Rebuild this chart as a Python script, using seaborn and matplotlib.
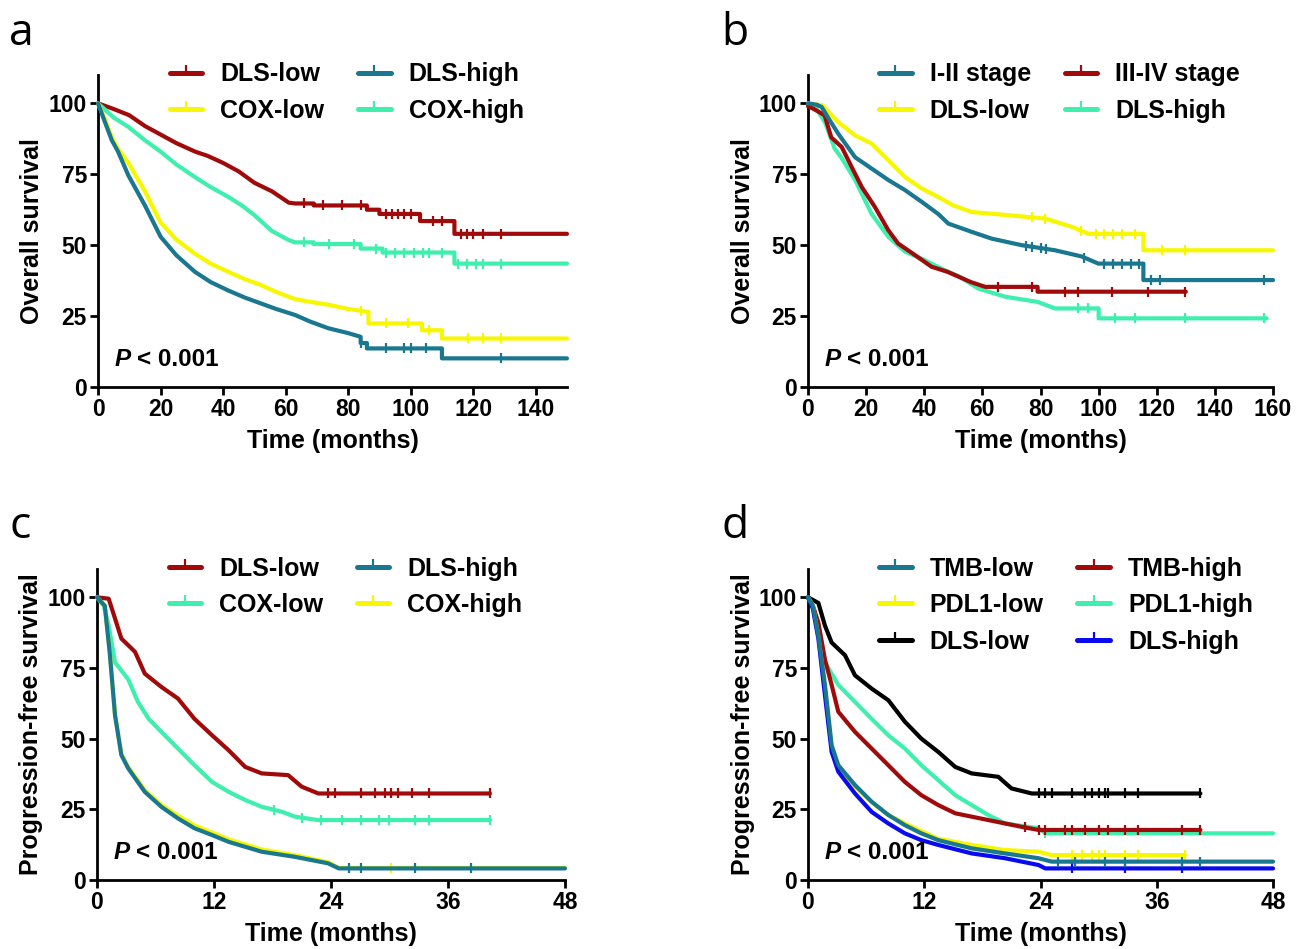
import numpy as np
import matplotlib
matplotlib.use("Agg")
import matplotlib.pyplot as plt
from matplotlib.lines import Line2D
import seaborn as sns

# colours
RED = "#A10A0A"
TEAL = "#19788F"
YELLOW = "#F7F700"
AQUA = "#3EEFAE"
BLUE = "#0A0AF0"
BLACK = "#000000"

# ---- panel a: overall survival (months) ----
A_DLS_LOW_T = [0, 5, 10, 15, 20, 25, 31, 35, 40, 45, 50, 55.6, 61, 63, 69, 69, 86, 86, 90, 90, 103, 103, 114, 114, 150]
A_DLS_LOW_S = [100, 98, 95.8, 92, 89, 86, 83, 81.5, 79, 76, 72, 69, 65, 64.7, 64.7, 64, 64, 62.5, 62.5, 61, 61, 58.5, 58.5, 54, 54]
A_DLS_LOW_C = [66, 72, 78, 84, 92, 94, 96, 98, 100, 107, 110, 116, 118, 120, 123, 129]

A_COX_HIGH_T = [0, 5, 9.7, 15, 20, 25, 31, 36, 41.7, 46, 50, 55.6, 61, 63, 69, 69, 84, 84, 91, 91, 114, 114, 150]
A_COX_HIGH_S = [100, 95, 91.7, 87, 83, 78.5, 74, 70.5, 67, 64, 60.6, 55, 51.8, 51, 51, 50.4, 50.4, 48.8, 48.8, 47.4, 47.4, 43.5, 43.5]
A_COX_HIGH_C = [66, 74, 82, 89, 92, 95, 98, 101, 104, 106, 110, 115, 118, 121, 123, 129]

A_COX_LOW_T = [0, 2, 4.4, 6.4, 9.7, 15, 20, 25, 31, 36, 41.7, 47, 52, 57, 63, 68, 73.7, 80, 86.5, 86.5, 103.6, 103.6, 110, 110, 150]
A_COX_LOW_S = [100, 95, 88, 84, 79, 69, 58, 52, 47, 43.5, 40.6, 38, 36, 33.5, 31, 30, 29, 27.5, 26.5, 22.4, 22.4, 20, 20, 17.1, 17.1]
A_COX_LOW_C = [84, 92, 99, 106, 118.5, 123, 129]

A_DLS_HIGH_T = [0, 2, 4.4, 6.4, 9.7, 15, 20, 25, 31, 36, 41.7, 47, 52, 57, 63, 68, 73.7, 80, 84, 84, 86, 86, 110, 110, 150]
A_DLS_HIGH_S = [100, 94, 87, 83, 74.6, 64, 53, 46.5, 40.6, 37, 34, 31.5, 29.5, 27.5, 25.4, 23, 20.7, 19, 17.7, 15.5, 15.5, 13.6, 13.6, 10.1, 10.1]
A_DLS_HIGH_C = [84, 92, 98, 100, 105, 129]

# ---- panel b: overall survival by stage / DLS ----
B_STAGE12_T = [0, 3, 4.7, 7.5, 10.4, 16.2, 21.9, 27.6, 33.4, 39.1, 44.8, 48.3, 56.3, 63.2, 73.5, 85, 94.2, 99.9, 115.4, 115.4, 160]
B_STAGE12_S = [100, 99.5, 98.7, 94, 89.3, 81, 77, 73, 69.4, 65.3, 61, 57.6, 54.7, 52.3, 50, 48.2, 46, 43.5, 43.5, 37.7, 37.7]
B_STAGE12_C = [75, 77, 80, 82, 95, 102, 105, 108, 111, 114, 118, 121, 157]

B_DLS_LOW_T = [0, 5, 10.4, 16.2, 21.9, 27.6, 33.4, 39.1, 44.8, 50, 56.3, 62, 81.5, 90.7, 96.5, 115.4, 115.4, 160]
B_DLS_LOW_S = [100, 99.3, 93.4, 88.7, 85.8, 80, 74, 70, 67, 64, 61.7, 61.2, 59.4, 56.5, 54, 54, 48.2, 48.2]
B_DLS_LOW_C = [77, 81.5, 94, 99, 102, 105, 108, 112.5, 121.7, 129.7]

B_STAGE34_T = [0, 2, 5.7, 8, 11.6, 15, 18.5, 23, 27.6, 31, 36.8, 42.5, 48, 56, 61, 79, 79, 130]
B_STAGE34_S = [99, 98, 95.8, 88, 84.6, 77.6, 70.5, 63.5, 55.3, 50.6, 46.5, 42.4, 40.6, 37, 35.3, 35.3, 33.6, 33.6]
B_STAGE34_C = [65.5, 77, 88.4, 93, 104.5, 117, 129.7]

B_DLS_HIGH_T = [0, 3, 6, 9.2, 11.4, 16.2, 21.9, 27.6, 33.4, 39, 47, 52, 58.6, 68, 79, 85, 100, 100, 157.8]
B_DLS_HIGH_S = [100, 98, 93, 84, 81, 73, 61, 53, 47.7, 45.3, 41.2, 39, 34.7, 31.8, 30, 27.7, 27.7, 24.2, 24.2]
B_DLS_HIGH_C = [93, 96.5, 105.6, 112.5, 129.7, 157]

# ---- panel c: progression-free survival ----
C_DLS_LOW_T = [0, 1.2, 1.85, 2.5, 3.9, 4.9, 6.6, 8.3, 10, 11.8, 13.5, 15.2, 16.9, 19.6, 21, 22.7, 40.3]
C_DLS_LOW_S = [100, 99.5, 92.5, 85.4, 80.7, 73, 68.3, 64.2, 57, 51.2, 45.9, 40, 37.7, 37.1, 33, 30.6, 30.6]
C_DLS_LOW_C = [23.7, 24.4, 27.1, 28.5, 29.5, 30.2, 30.9, 32.3, 34, 40.3]

C_COX_LOW_T = [0, 0.7, 1.2, 1.85, 3.2, 4.2, 5.3, 6.6, 8.3, 10, 11.8, 13.5, 15.2, 16.9, 19, 20.3, 22.7, 40.3]
C_COX_LOW_S = [100, 97, 90, 77, 71, 63, 57, 52.4, 46.5, 40.6, 34.7, 31.2, 28.3, 25.9, 24.1, 22.4, 21.2, 21.2]
C_COX_LOW_C = [18.2, 21, 23, 25.1, 27.1, 28.9, 29.9, 32.6, 34, 40.3]

C_COX_HIGH_T = [0, 0.8, 1.3, 1.85, 2.5, 3.2, 4.9, 6.6, 8.3, 10, 11.8, 13.5, 16.9, 20.3, 23.7, 24.8, 48]
C_COX_HIGH_S = [100, 97, 81, 58.5, 44.5, 40, 31.8, 26.6, 22.8, 19.3, 16.8, 14.4, 10.8, 8.8, 6.3, 4.3, 4.3]
C_COX_HIGH_C = [30.2]

C_DLS_HIGH_T = [0, 0.8, 1.3, 1.85, 2.5, 3.2, 4.9, 6.6, 8.3, 10, 11.8, 13.5, 16.9, 20.3, 23.7, 24.8, 48]
C_DLS_HIGH_S = [100, 97, 80.7, 58.3, 44.2, 39.5, 31.2, 25.9, 21.8, 18.3, 15.9, 13.5, 10, 8.2, 5.9, 4.1, 4.1]
C_DLS_HIGH_C = [25.8, 27.1, 32.6, 38.4]

# ---- panel d: progression-free survival, TMB / PDL1 / DLS ----
D_DLS_LOW_T = [0, 1.07, 1.75, 2.44, 3.82, 4.85, 6.57, 8.29, 10, 11.7, 13.45, 15.2, 16.9, 19.65, 21, 23.1, 40.5]
D_DLS_LOW_S = [100, 98, 90, 84, 79.5, 72.4, 67.7, 63.6, 56, 50, 45.3, 40, 37.7, 36.5, 32.4, 30.6, 30.6]
D_DLS_LOW_C = [23.8, 24.5, 25.2, 27.2, 28.6, 29.3, 30, 30.7, 31, 32.7, 34.1, 40.5]

D_PDL1_HIGH_T = [0, 0.5, 1.07, 1.75, 3.13, 4.85, 6.57, 8.29, 10, 11.7, 13.45, 15.2, 16.9, 18.6, 20.34, 23.8, 24.5, 48]
D_PDL1_HIGH_S = [100, 97, 90, 77, 69, 63, 57, 51.2, 46.5, 40.6, 35.3, 30, 26.5, 23, 20, 18.3, 16.5, 16.5]
D_PDL1_HIGH_C = [24.5]

D_TMB_HIGH_T = [0, 0.5, 1.07, 1.75, 2.44, 3.13, 4.85, 6.57, 8.29, 10, 11.7, 13.45, 15.2, 16.9, 20.34, 22.06, 23.8, 40.5]
D_TMB_HIGH_S = [100, 97, 91, 78, 69, 59.5, 52.4, 46.5, 40.6, 34.7, 30, 26.5, 23.6, 22.4, 20, 18.8, 17.7, 17.7]
D_TMB_HIGH_C = [22.4, 23.8, 24.5, 26.5, 27.2, 28.6, 30, 31, 32.7, 34.1, 38.6, 40.5]

D_PDL1_LOW_T = [0, 0.5, 1.07, 1.75, 2.44, 3.13, 4.85, 6.57, 8.29, 10, 11.7, 13.45, 16.9, 20.34, 23.8, 25.15, 38.9]
D_PDL1_LOW_S = [100, 97, 86, 68, 47, 40, 33, 27.5, 23, 20, 17.3, 14.6, 12.4, 10.6, 10, 8.8, 8.8]
D_PDL1_LOW_C = [27.2, 28.3, 29.3, 30, 30.7, 32.7, 34.1, 38.9]

D_DLS_HIGH_T = [0, 0.5, 1.07, 1.75, 2.44, 3.13, 4.85, 6.57, 8.29, 10, 11.7, 13.45, 16.9, 20.34, 23.8, 24.5, 48]
D_DLS_HIGH_S = [100, 96, 85.4, 65.4, 45.3, 38.3, 30.6, 24.1, 20, 16.5, 14.1, 12.4, 9.4, 7.7, 5.3, 4.1, 4.1]
D_DLS_HIGH_C = [27.2, 32.7, 38.6]

D_TMB_LOW_T = [0, 0.5, 1.07, 1.75, 2.44, 3.13, 4.85, 6.57, 8.29, 10, 11.7, 13.45, 16.9, 20.34, 23.8, 25.15, 48]
D_TMB_LOW_S = [100, 97, 86.6, 69, 47.7, 40.6, 33.6, 27.7, 23, 19.4, 16.5, 14.1, 11.2, 9.4, 7.7, 6.5, 6.5]
D_TMB_LOW_C = [25.8, 27.6, 30.7, 32.7, 38.6, 40.5]

Y_TICKS = [0, 25, 50, 75, 100]
OS_TICKS_A = [0, 20, 40, 60, 80, 100, 120, 140]
OS_TICKS_B = [0, 20, 40, 60, 80, 100, 120, 140, 160]
PFS_TICKS = [0, 12, 24, 36, 48]

# (label, times, survival, censored, colour) in drawing order
PANEL_A = [("DLS-low", A_DLS_LOW_T, A_DLS_LOW_S, A_DLS_LOW_C, RED),
           ("COX-high", A_COX_HIGH_T, A_COX_HIGH_S, A_COX_HIGH_C, AQUA),
           ("COX-low", A_COX_LOW_T, A_COX_LOW_S, A_COX_LOW_C, YELLOW),
           ("DLS-high", A_DLS_HIGH_T, A_DLS_HIGH_S, A_DLS_HIGH_C, TEAL)]
PANEL_B = [("DLS-low", B_DLS_LOW_T, B_DLS_LOW_S, B_DLS_LOW_C, YELLOW),
           ("DLS-high", B_DLS_HIGH_T, B_DLS_HIGH_S, B_DLS_HIGH_C, AQUA),
           ("III-IV stage", B_STAGE34_T, B_STAGE34_S, B_STAGE34_C, RED),
           ("I-II stage", B_STAGE12_T, B_STAGE12_S, B_STAGE12_C, TEAL)]
PANEL_C = [("DLS-low", C_DLS_LOW_T, C_DLS_LOW_S, C_DLS_LOW_C, RED),
           ("COX-low", C_COX_LOW_T, C_COX_LOW_S, C_COX_LOW_C, AQUA),
           ("COX-high", C_COX_HIGH_T, C_COX_HIGH_S, C_COX_HIGH_C, YELLOW),
           ("DLS-high", C_DLS_HIGH_T, C_DLS_HIGH_S, C_DLS_HIGH_C, TEAL)]
PANEL_D = [("DLS-low", D_DLS_LOW_T, D_DLS_LOW_S, D_DLS_LOW_C, BLACK),
           ("PDL1-high", D_PDL1_HIGH_T, D_PDL1_HIGH_S, D_PDL1_HIGH_C, AQUA),
           ("TMB-high", D_TMB_HIGH_T, D_TMB_HIGH_S, D_TMB_HIGH_C, RED),
           ("PDL1-low", D_PDL1_LOW_T, D_PDL1_LOW_S, D_PDL1_LOW_C, YELLOW),
           ("DLS-high", D_DLS_HIGH_T, D_DLS_HIGH_S, D_DLS_HIGH_C, BLUE),
           ("TMB-low", D_TMB_LOW_T, D_TMB_LOW_S, D_TMB_LOW_C, TEAL)]

# legend order (column-major, 2 columns)
LEG_A = ["DLS-low", "COX-low", "DLS-high", "COX-high"]
LEG_B = ["I-II stage", "DLS-low", "III-IV stage", "DLS-high"]
LEG_C = ["DLS-low", "COX-low", "DLS-high", "COX-high"]
LEG_D = ["TMB-low", "PDL1-low", "DLS-low", "TMB-high", "PDL1-high", "DLS-high"]

sns.set_theme(style="ticks")
plt.rcParams["font.family"] = ["Liberation Sans", "DejaVu Sans"]
plt.rcParams.update({
    "font.weight": "bold",
    "axes.labelweight": "bold",
    "text.color": "black",
    "axes.labelcolor": "black",
    "xtick.color": "black",
    "ytick.color": "black",
    "axes.edgecolor": "black",
})

LW = 3.0
FS = 18


def draw_panel(ax, curves, xmax, xticks, ylabel, leg_order, letter, letter_xy):
    for name, t, s, c, col in curves:
        sns.lineplot(x=t, y=s, ax=ax, color=col, lw=LW, estimator=None, sort=False,
                     clip_on=False, zorder=3)
        ax.plot(c, np.interp(c, t, s), ls="none", marker="|", ms=7, mew=1.6,
                color=col, zorder=3, clip_on=False)

    ax.set_xlim(0, xmax)
    ax.set_ylim(0, 110)
    ax.set_xticks(xticks)
    ax.set_yticks(Y_TICKS)
    ax.tick_params(labelsize=16.5, width=2, length=6, pad=2)
    for sp in ["left", "bottom"]:
        ax.spines[sp].set_linewidth(2)
    sns.despine(ax=ax)
    ax.set_xlabel("Time (months)", fontsize=18)
    ax.set_ylabel(ylabel, fontsize=18)
    ax.xaxis.set_label_coords(0.5, -0.135)
    ax.yaxis.set_label_coords(-0.115, 0.5)

    colours = {name: col for name, t, s, c, col in curves}
    handles = [Line2D([], [], color=colours[n], lw=LW + 0.6, marker=2, ms=6, mew=1.6)
               for n in leg_order]
    ax.legend(handles, leg_order, ncol=2, frameon=False, loc="upper left",
              bbox_to_anchor=(0.153, 1.04), fontsize=FS, handlelength=1.3,
              handletextpad=0.72, columnspacing=1.35, labelspacing=0.5,
              borderpad=0, borderaxespad=0, numpoints=1)

    ax.text(0.036, 0.067, "P", transform=ax.transAxes, fontsize=17.5,
            style="italic", fontweight="bold", va="baseline")
    ax.text(0.083, 0.067, "< 0.001", transform=ax.transAxes, fontsize=17.5,
            fontweight="bold", va="baseline")

    ax.figure.text(letter_xy[0], letter_xy[1], letter, fontsize=32,
                   fontweight="normal", family="Open Sans", va="baseline")


fig = plt.figure(figsize=(13.07, 9.49), dpi=100)
ax_a = fig.add_axes([0.075, 0.5922, 0.3588, 0.3288])
ax_b = fig.add_axes([0.6182, 0.5922, 0.3558, 0.3288])
ax_c = fig.add_axes([0.0742, 0.0727, 0.3581, 0.3277])
ax_d = fig.add_axes([0.6182, 0.0727, 0.3558, 0.3277])

draw_panel(ax_a, PANEL_A, 150, OS_TICKS_A, "Overall survival", LEG_A, "a", (0.007, 0.953))
draw_panel(ax_b, PANEL_B, 160, OS_TICKS_B, "Overall survival", LEG_B, "b", (0.552, 0.953))
draw_panel(ax_c, PANEL_C, 48, PFS_TICKS, "Progression-free survival", LEG_C, "c", (0.007, 0.433))
draw_panel(ax_d, PANEL_D, 48, PFS_TICKS, "Progression-free survival", LEG_D, "d", (0.552, 0.433))

fig.savefig("out.png", dpi=100)
